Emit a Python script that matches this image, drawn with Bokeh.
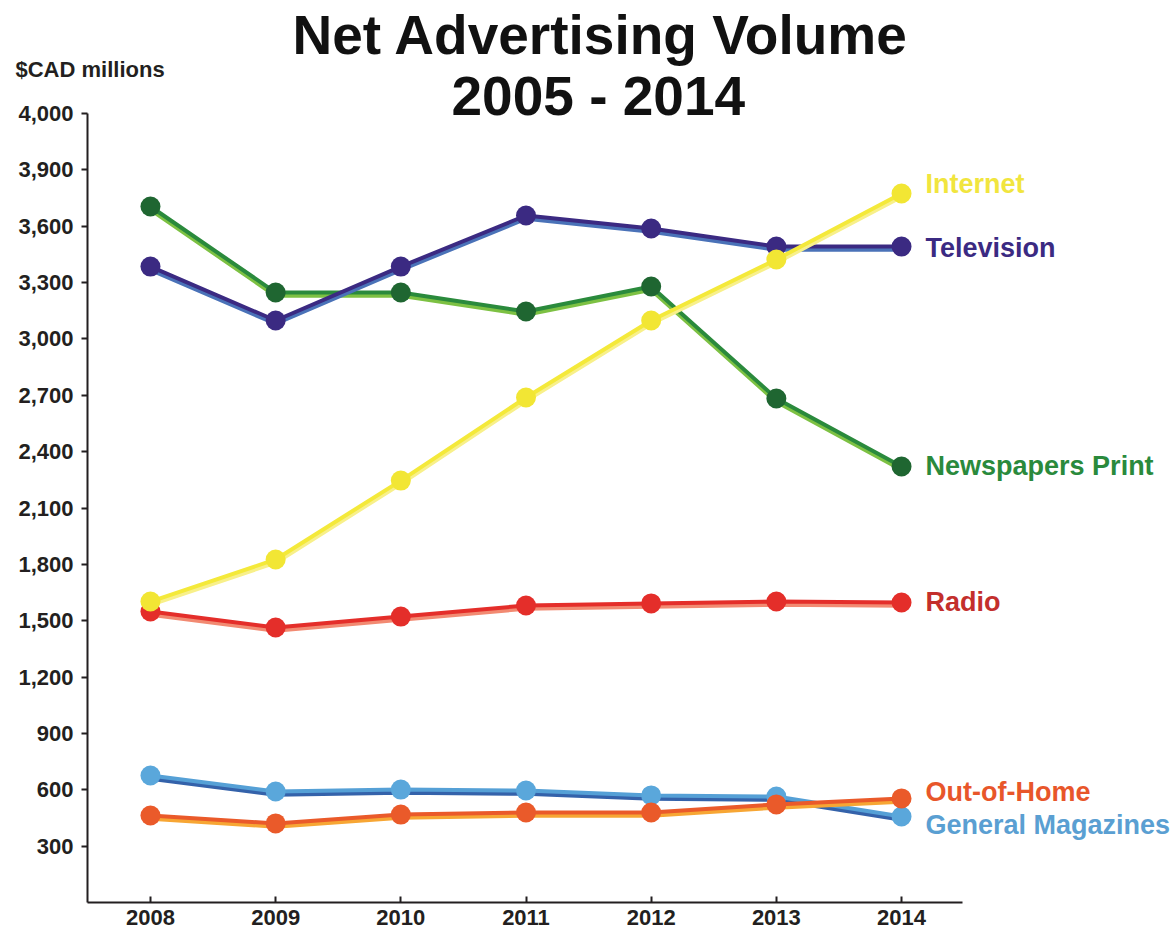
from bokeh.plotting import figure
from bokeh.models import Range1d, FixedTicker, NumeralTickFormatter, Title, ColumnDataSource
from bokeh.core.properties import value
from bokeh.embed import file_html
from bokeh.resources import INLINE

years = [2008, 2009, 2010, 2011, 2012, 2013, 2014]
newspapers = [3705, 3247, 3247, 3146, 3279, 2683, 2321]
television = [3385, 3098, 3385, 3657, 3588, 3492, 3492]
internet = [1602, 1826, 2246, 2688, 3098, 3423, 3774]
radio = [1549, 1464, 1522, 1581, 1592, 1602, 1597]
magazines = [676, 591, 601, 596, 570, 564, 458]
out_of_home = [463, 421, 468, 479, 479, 522, 554]

series_names = ["Newspapers Print", "Television", "General Magazines", "Out-of-Home", "Radio", "Internet"]
series_values = [newspapers, television, magazines, out_of_home, radio, internet]

y_ticks = [300, 600, 900, 1200, 1500, 1800, 2100, 2400, 2700, 3000, 3300, 3600, 3900, 4200]
y_tick_labels = {4200: "4,000"}

# styles: (top line, under line, marker, label colour, label y offset px)
styles = {
    "Newspapers Print": ("#2a8a3c", "#7dc143", "#1f6631", "#2a8a3c", 0),
    "Television": ("#3b2a82", "#4a72b8", "#3b2a82", "#3b2a82", 1),
    "General Magazines": ("#55a0d6", "#3462aa", "#5aa7db", "#5a9fd2", 9),
    "Out-of-Home": ("#ea5a2a", "#f7a634", "#ea5a2a", "#e8562a", -6),
    "Radio": ("#e42e2a", "#f28a72", "#e42e2a", "#c32f2c", 0),
    "Internet": ("#f4e93a", "#f8f08a", "#f2e634", "#f1e53e", -10),
}

FONT = "Liberation Sans"
W, H = 1175, 932
LEFT, TOP, BOTTOM = 87, 113, 30
AXIS_W, AXIS_H = 875, 789          # pixel extent of the drawn axes
Y0, Y1 = 0, 4200
X0, X_AX = 2007.497, 2014.487
FW = W - LEFT
FH = H - TOP - BOTTOM
px_y = FH / (Y1 - Y0)
px_x = AXIS_W / (X_AX - X0)
X1 = X0 + FW / px_x

p = figure(frame_width=FW, frame_height=FH, min_border_left=LEFT, min_border_right=0,
           min_border_top=TOP, min_border_bottom=BOTTOM,
           x_range=Range1d(X0, X1), y_range=Range1d(Y0, Y1),
           output_backend="svg", toolbar_location=None, tools="")
p.outline_line_color = None
p.xgrid.visible = False
p.ygrid.visible = False

# titles stacked above the frame (first added = nearest the frame)
T55, T22 = 63, 25   # approximate measured text heights
title2 = Title(text="2005 - 2014", align="left", offset=364, vertical_align="middle",
               text_font=FONT, text_font_style="bold", text_font_size="55px",
               text_color="#111111", standoff=36 - 2 - T55)
units = Title(text="$CAD millions", align="left", offset=-72, vertical_align="middle",
              text_font=FONT, text_font_style="bold", text_font_size="22px",
              text_color="#231f20", standoff=18 - 2 - T22)
title1 = Title(text="Net Advertising Volume", align="left", offset=205, vertical_align="middle",
               text_font=FONT, text_font_style="bold", text_font_size="55px",
               text_color="#111111", standoff=52 - 2 - T55)
p.add_layout(title2, "above")
p.add_layout(units, "above")
p.add_layout(title1, "above")

p.yaxis.ticker = FixedTicker(ticks=y_ticks)
p.yaxis.formatter = NumeralTickFormatter(format="0,0")
p.yaxis.major_label_overrides = y_tick_labels
p.yaxis.major_tick_out = 6
p.yaxis.major_tick_in = 0
p.yaxis.minor_tick_line_color = None
p.yaxis.major_label_standoff = 8
p.xaxis.ticker = FixedTicker(ticks=years)
p.xaxis.bounds = (X0, X_AX)
p.xaxis.major_tick_in = 6
p.xaxis.major_tick_out = 0
p.xaxis.minor_tick_line_color = None
p.xaxis.major_label_standoff = 7
for ax in (p.xaxis, p.yaxis):
    ax.axis_line_color = "#231f20"
    ax.axis_line_width = 2
    ax.major_tick_line_color = "#231f20"
    ax.major_tick_line_width = 2
    ax.major_label_text_font = FONT
    ax.major_label_text_font_style = "bold"
    ax.major_label_text_font_size = "22px"
    ax.major_label_text_color = "#231f20"

under_off = 3 / px_y

for name, vals in zip(series_names, series_values):
    top, under, mk, lab, dy = styles[name]
    under_vals = [v - under_off for v in vals]
    p.line(years, under_vals, line_color=under, line_width=4.5, line_join="round")
    p.line(years, vals, line_color=top, line_width=4, line_join="round")
    p.scatter(years, vals, size=20, fill_color=mk, line_color=None)

lab_src = ColumnDataSource(dict(
    x=[years[-1]] * len(series_names),
    y=[v[-1] for v in series_values],
    text=series_names,
    color=[styles[n][3] for n in series_names],
    dy=[styles[n][4] for n in series_names],
))
p.text(x="x", y="y", text="text", source=lab_src, text_color="color", x_offset=24, y_offset="dy",
       text_font=value(FONT), text_font_style="bold", text_font_size="27px",
       text_baseline="middle", text_align="left")

open("out.html", "w").write(file_html(p, INLINE))
